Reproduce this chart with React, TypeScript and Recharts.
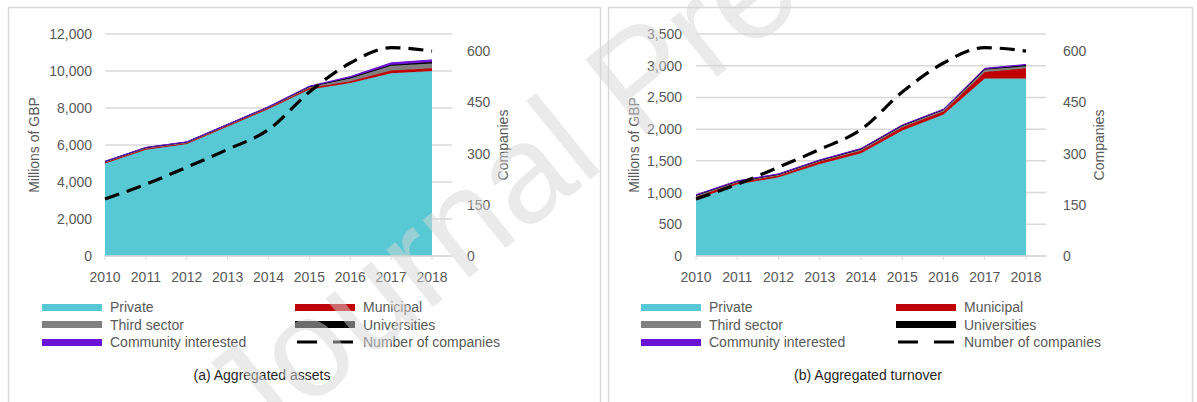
import React from "react";
import { ComposedChart, Area, Line, XAxis, YAxis, CartesianGrid } from "recharts";

const years = ["2010", "2011", "2012", "2013", "2014", "2015", "2016", "2017", "2018"];
const companies = [167, 210, 260, 312, 370, 480, 565, 610, 600];

// (a) aggregated assets, millions of GBP
const assetsPrivate = [5000, 5750, 6050, 7000, 7950, 9000, 9350, 9880, 10000];
const assetsMunicipal = [50, 50, 50, 50, 50, 80, 100, 150, 150];
const assetsThird = [50, 50, 50, 50, 50, 60, 150, 250, 250];
const assetsUniversities = [10, 10, 10, 10, 10, 20, 50, 60, 80];
const assetsCommunity = [10, 10, 10, 10, 10, 20, 50, 100, 120];

// (b) aggregated turnover, millions of GBP
const turnoverPrivate = [890, 1130, 1240, 1450, 1620, 1980, 2230, 2800, 2800];
const turnoverMunicipal = [40, 30, 30, 40, 40, 50, 50, 100, 160];
const turnoverThird = [20, 10, 10, 10, 20, 20, 20, 40, 30];
const turnoverUniversities = [10, 10, 10, 10, 10, 10, 10, 10, 20];
const turnoverCommunity = [5, 5, 5, 5, 5, 5, 5, 10, 10];

const assetTicks = [0, 2000, 4000, 6000, 8000, 10000, 12000];
const turnoverTicks = [0, 500, 1000, 1500, 2000, 2500, 3000, 3500];
const companyTicks = [0, 150, 300, 450, 600];

const COLORS = {
  private: "#58c8d4",
  municipal: "#c00000",
  third: "#808080",
  universities: "#000000",
  community: "#6a12d6",
};

const FONT = "'Liberation Sans', Arial, sans-serif";
const TEXT = "#595959";

const buildRows = (p: number[], m: number[], t: number[], u: number[], c: number[]) =>
  years.map((year, i) => ({
    year,
    private: p[i],
    municipal: m[i],
    third: t[i],
    universities: u[i],
    community: c[i],
    companies: companies[i],
  }));

const assetRows = buildRows(assetsPrivate, assetsMunicipal, assetsThird, assetsUniversities, assetsCommunity);
const turnoverRows = buildRows(turnoverPrivate, turnoverMunicipal, turnoverThird, turnoverUniversities, turnoverCommunity);

const legendItems = [
  { name: "Private", color: COLORS.private, col: 0, row: 0 },
  { name: "Third sector", color: COLORS.third, col: 0, row: 1 },
  { name: "Community interested", color: COLORS.community, col: 0, row: 2 },
  { name: "Municipal", color: COLORS.municipal, col: 1, row: 0 },
  { name: "Universities", color: COLORS.universities, col: 1, row: 1 },
  { name: "Number of companies", color: "dashed", col: 1, row: 2 },
];

interface PanelProps {
  left: number;
  width: number;
  rows: any[];
  yMax: number;
  yTicks: number[];
  caption: string;
  leftMargin: number;
  rightMargin: number;
  leftTickMargin: number;
  rightTickMargin: number;
  yTitleX: number;
  rightTitleX: number;
  legendX: number[];
  captionX: number;
}

const Panel = (props: PanelProps) => {
  const { left, width, rows, yMax, yTicks, caption } = props;
  const tickStyle = { fill: TEXT, fontSize: 14, fontFamily: FONT };
  return (
    <div style={{ position: "absolute", left, top: 0, width, height: 402 }}>
      <ComposedChart
        width={width}
        height={300}
        data={rows}
        margin={{ top: 34, left: 0, right: props.rightMargin, bottom: 14 }}
      >
        <CartesianGrid yAxisId="left" vertical={false} stroke="#d9d9d9" strokeWidth={1.5} />
        <XAxis
          dataKey="year"
          padding={{ left: 0, right: 20 }}
          tick={tickStyle}
          tickSize={4}
          tickMargin={12}
          height={30}
          axisLine={{ stroke: "#d9d9d9", strokeWidth: 1.5 }}
          tickLine={{ stroke: "#d9d9d9" }}
          interval={0}
        />
        <YAxis
          yAxisId="left"
          width={props.leftMargin}
          domain={[0, yMax]}
          ticks={yTicks}
          tick={tickStyle}
          tickFormatter={(v: number) => v.toLocaleString("en-US")}
          axisLine={false}
          tickLine={false}
          tickMargin={props.leftTickMargin}
          interval={0}
        />
        <YAxis
          yAxisId="right"
          orientation="right"
          width={60}
          domain={[0, 650]}
          ticks={companyTicks}
          tick={{ ...tickStyle, textAnchor: "start" }}
          axisLine={false}
          tickLine={false}
          tickMargin={props.rightTickMargin}
          interval={0}
        />
        <Area yAxisId="left" type="linear" dataKey="private" stackId="s" fill={COLORS.private} fillOpacity={1} stroke="#4aa9b4" strokeWidth={0.6} isAnimationActive={false} />
        <Area yAxisId="left" type="linear" dataKey="municipal" stackId="s" fill={COLORS.municipal} fillOpacity={1} stroke={COLORS.municipal} strokeWidth={1} isAnimationActive={false} />
        <Area yAxisId="left" type="linear" dataKey="third" stackId="s" fill={COLORS.third} fillOpacity={1} stroke={COLORS.third} strokeWidth={1} isAnimationActive={false} />
        <Area yAxisId="left" type="linear" dataKey="universities" stackId="s" fill={COLORS.universities} fillOpacity={1} stroke={COLORS.universities} strokeWidth={1} isAnimationActive={false} />
        <Area yAxisId="left" type="linear" dataKey="community" stackId="s" fill={COLORS.community} fillOpacity={1} stroke={COLORS.community} strokeWidth={1} isAnimationActive={false} />
        <Line yAxisId="right" type="monotone" dataKey="companies" stroke="#000" strokeWidth={3.2} strokeDasharray="15 8" dot={false} isAnimationActive={false} />
      </ComposedChart>

      <div style={{ position: "absolute", left: props.yTitleX - 70, top: 145 - 9, width: 140, textAlign: "center", transform: "rotate(-90deg)", fontSize: 14, color: TEXT, fontFamily: FONT, lineHeight: "18px" }}>
        Millions of GBP
      </div>
      <div style={{ position: "absolute", left: props.rightTitleX - 50, top: 145 - 9, width: 100, textAlign: "center", transform: "rotate(-90deg)", fontSize: 14, color: TEXT, fontFamily: FONT, lineHeight: "18px" }}>
        Companies
      </div>

      {legendItems.map((item) => {
        const x = props.legendX[item.col];
        const y = 307 + item.row * 17.5;
        return (
          <div key={item.name} style={{ position: "absolute", left: x, top: y - 9, height: 18, display: "flex", alignItems: "center", fontFamily: FONT, fontSize: 14, color: TEXT, whiteSpace: "nowrap" }}>
            {item.color === "dashed" ? (
              <svg width={60} height={8} style={{ marginRight: 8 }}>
                <line x1={0} y1={4} x2={60} y2={4} stroke="#000" strokeWidth={3} strokeDasharray="20 16" strokeDashoffset={-2} />
              </svg>
            ) : (
              <div style={{ width: 60, height: 7, background: item.color, marginRight: 8 }} />
            )}
            {item.name}
          </div>
        );
      })}

      <div style={{ position: "absolute", left: props.captionX - 150, top: 367, width: 300, textAlign: "center", fontFamily: FONT, fontSize: 14, color: "#262626" }}>
        {caption}
      </div>
    </div>
  );
};

export default function App() {
  return (
    <div style={{ position: "absolute", left: 0, top: 0, width: 1197, height: 402, background: "#fff", overflow: "hidden" }}>
      <svg width={1197} height={402} style={{ position: "absolute", left: 0, top: 0 }}>
        <rect x={8.5} y={7.5} width={592} height={400} fill="none" stroke="#d9d9d9" strokeWidth={1.5} />
        <rect x={608.5} y={7.5} width={584} height={400} fill="none" stroke="#d9d9d9" strokeWidth={1.5} />
      </svg>
      <Panel
        left={0}
        width={600}
        rows={assetRows}
        yMax={12000}
        yTicks={assetTicks}
        caption="(a) Aggregated assets"
        leftMargin={105}
        rightMargin={88}
        leftTickMargin={7}
        rightTickMargin={9}
        yTitleX={34}
        rightTitleX={503}
        legendX={[42, 295]}
        captionX={262}
      />
      <Panel
        left={600}
        width={597}
        rows={turnoverRows}
        yMax={3500}
        yTicks={turnoverTicks}
        caption="(b) Aggregated turnover"
        leftMargin={96}
        rightMargin={91}
        leftTickMargin={8}
        rightTickMargin={11}
        yTitleX={34}
        rightTitleX={499}
        legendX={[41, 296]}
        captionX={268}
      />
      <svg width={1197} height={402} style={{ position: "absolute", left: 0, top: 0, pointerEvents: "none" }}>
        <text
          x={250}
          y={455}
          transform="rotate(-39 250 455)"
          fontFamily={FONT}
          fontSize={140}
          fill="#d6d6d6"
          fillOpacity={0.5}
        >
          Journal Pre-proof
        </text>
      </svg>
    </div>
  );
}
